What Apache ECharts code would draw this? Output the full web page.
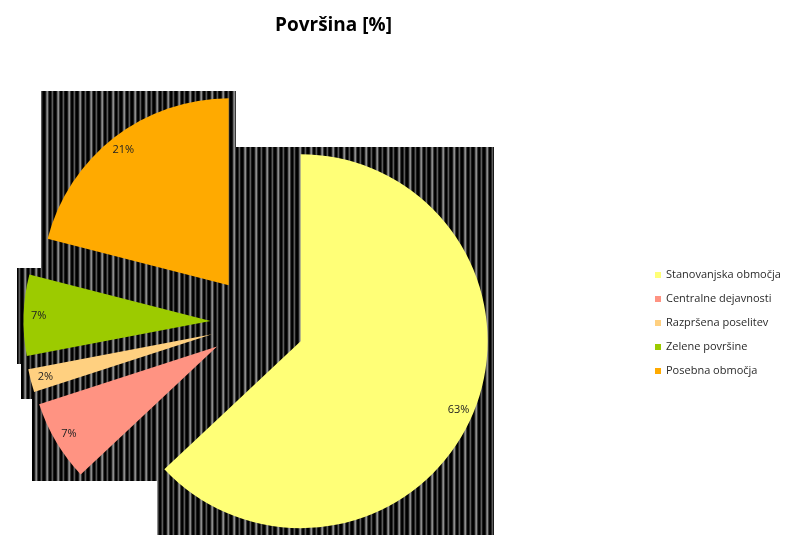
<!DOCTYPE html>
<html>
<head>
<meta charset="utf-8">
<script src="https://cdn.jsdelivr.net/npm/echarts@6/dist/echarts.min.js"></script>
<style>
  html, body { margin: 0; padding: 0; background: #ffffff; }
  #chart { width: 788px; height: 535px; }
</style>
</head>
<body>
<div id="chart"></div>
<script>
// Land-use categories and their share of the total area (%)
const categories = [
  'Stanovanjska območja',
  'Centralne dejavnosti',
  'Razpršena poselitev',
  'Zelene površine',
  'Posebna območja'
];
const shares = [63, 7, 2, 7, 21];
const sliceColors = ['#FFFF77', '#FF9382', '#FFD080', '#9CCB00', '#FFAA00'];

const FONT = '"Open Sans", "Noto Sans", sans-serif';
const pieCenter = [257.5, 322.5];
const pieRadius = 187;
const explode = 47;      // every slice is pulled out by the same distance
const framePad = 7;      // backdrop frame around each slice

// Vertical-stripe texture used for the dark frames behind the slices
function makeStripes() {
  const shades = ['#000000', '#1c1c1c', '#6a6a6a', '#8e8e8e', '#3a3a3a', '#050505',
                  '#000000', '#2a2a2a', '#5c5c5c', '#1a1a1a', '#000000'];
  const cv = document.createElement('canvas');
  cv.width = shades.length;
  cv.height = 2;
  const ctx = cv.getContext('2d');
  shades.forEach((c, i) => { ctx.fillStyle = c; ctx.fillRect(i, 0, 1, 2); });
  return cv;
}

const chart = echarts.init(document.getElementById('chart'), null, { renderer: 'canvas' });

const sliceData = categories.map((name, i) => ({
  name, value: shares[i], selected: true, itemStyle: { color: sliceColors[i] }
}));
const labelData = categories.map((name, i) => ({
  name, value: shares[i], selected: true
}));

chart.setOption({
  animation: false,
  title: {
    text: 'Površina [%]',
    left: 270,
    top: 11,
    textStyle: { fontFamily: FONT, fontSize: 19, fontWeight: 'bold', color: '#000000' }
  },
  legend: {
    orient: 'vertical',
    left: 655,
    top: 268,
    padding: 0,
    icon: 'rect',
    itemWidth: 6,
    itemHeight: 6,
    itemGap: 10,
    selectedMode: false,
    data: categories,
    textStyle: { fontFamily: FONT, fontSize: 11, lineHeight: 14, color: '#2a2a2a' }
  },
  series: [
    {
      type: 'pie',
      name: 'Površina',
      center: pieCenter,
      radius: pieRadius,
      startAngle: 90,
      clockwise: true,
      selectedMode: 'multiple',
      selectedOffset: explode,
      silent: true,
      z: 2,
      label: { show: false },
      labelLine: { show: false },
      emphasis: { disabled: true },
      data: sliceData
    },
    {
      // outer ring carrying the percentage labels near the rim
      type: 'pie',
      name: 'Površina oznake',
      center: pieCenter,
      radius: [151, pieRadius],
      startAngle: 90,
      clockwise: true,
      selectedMode: 'multiple',
      selectedOffset: explode,
      silent: true,
      legendHoverLink: false,
      z: 3,
      itemStyle: { color: 'rgba(0,0,0,0)', borderWidth: 0 },
      label: {
        show: true,
        position: 'inside',
        formatter: p => p.value + '%',
        fontFamily: FONT,
        fontSize: 11,
        color: '#222222'
      },
      labelLine: { show: false },
      emphasis: { disabled: true },
      data: labelData
    }
  ]
});

// Dark striped frames behind each slice, sized from the pie's own layout
const stripes = makeStripes();
const data = chart.getModel().getSeriesByIndex(0).getData();
const frames = [];
data.each(idx => {
  const L = data.getItemLayout(idx);
  const mid = (L.startAngle + L.endAngle) / 2;
  const ox = Math.cos(mid) * explode;
  const oy = Math.sin(mid) * explode;
  const xs = [L.cx], ys = [L.cy];
  const steps = 90;
  for (let k = 0; k <= steps; k++) {
    const a = L.startAngle + (L.endAngle - L.startAngle) * k / steps;
    xs.push(L.cx + L.r * Math.cos(a));
    ys.push(L.cy + L.r * Math.sin(a));
  }
  const x0 = Math.min(...xs) + ox - framePad;
  const x1 = Math.max(...xs) + ox + framePad;
  const y0 = Math.min(...ys) + oy - framePad;
  const y1 = Math.max(...ys) + oy + framePad;
  frames.push({
    type: 'rect',
    z: 0,
    silent: true,
    shape: { x: Math.round(x0), y: Math.round(y0), width: Math.round(x1 - x0), height: Math.round(y1 - y0) },
    style: { fill: { image: stripes, repeat: 'repeat' } }
  });
});
chart.setOption({ graphic: { elements: frames } });
</script>
</body>
</html>
